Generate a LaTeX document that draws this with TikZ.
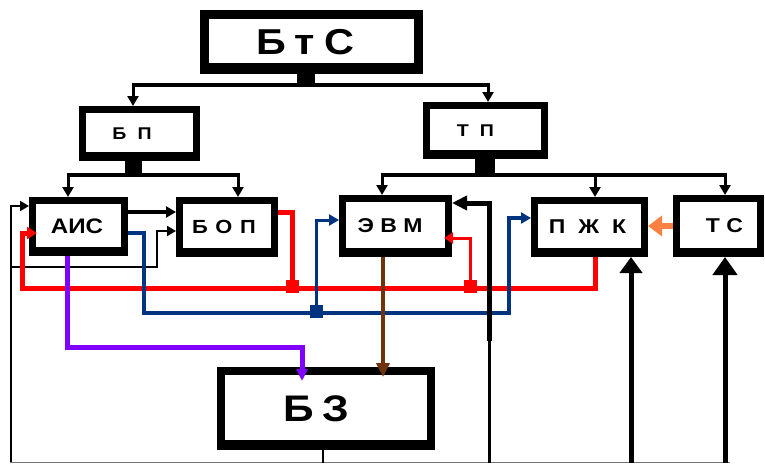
\documentclass[tikz,border=0pt]{standalone}
\usepackage{fontspec}
\setmainfont[FakeStretch=1.15]{Liberation Sans}
\usetikzlibrary{arrows.meta}
\definecolor{navyc}{RGB}{0,51,128}
\definecolor{purp}{RGB}{128,0,255}
\definecolor{brn}{RGB}{112,52,12}
\definecolor{orng}{RGB}{255,128,64}
\newcommand{\gp}[1]{\hspace{#1em}}
\begin{document}
\begin{tikzpicture}[x=1pt,y=-1pt,
  box/.style={draw=black, fill=white, line width=#1, inner sep=0pt, font=\bfseries},
  fs/.style={font=\bfseries\fontsize{#1}{#1}\selectfont},
  bus/.style={line width=4.5pt, black},
  stub/.style={line width=#1, black},
  dnarr/.style={line width=3pt, black, -{Triangle[length=10pt,width=11pt]}},
  thinarr/.style={line width=2pt, black, -{Triangle[length=9pt,width=10pt]}},
  bigup/.style={line width=5pt, black, -{Triangle[length=16pt,width=22pt]}},
  redthick/.style={line width=5pt, red},
  redthin/.style={line width=3pt, red, -{Triangle[length=9pt,width=11pt]}},
  navyl/.style={line width=3.5pt, navyc, -{Triangle[length=10pt,width=11pt]}},
  sq/.style={fill=#1, draw=none, minimum size=13pt, inner sep=0pt},
]
\useasboundingbox (0,0) rectangle (765,463);

% boxes
\node[box=9pt, minimum width=214pt, minimum height=55pt, fs=36] (bts) at (311.5,42) {Б\gp{0.25}т\gp{0.25}С\kern13pt};
\node[box=7pt, minimum width=114pt, minimum height=48pt, fs=17] (bp) at (139.5,133.5) {Б\gp{0.65}П\kern15pt};
\node[box=7pt, minimum width=118pt, minimum height=50pt, fs=17] (tp) at (485.5,130.5) {Т\gp{0.65}П\kern20pt};
\node[box=7pt, minimum width=92pt, minimum height=52pt, fs=21] (ais) at (78.5,226.5) {АИС\kern3pt};
\node[box=7pt, minimum width=95pt, minimum height=53pt, fs=19] (bop) at (227,227) {Б\gp{0.4}О\gp{0.4}П\kern6pt};
\node[box=7pt, minimum width=106pt, minimum height=55pt, fs=20] (evm) at (395.5,226) {Э\gp{0.32}В\gp{0.32}М\kern11pt};
\node[box=7pt, minimum width=110pt, minimum height=53pt, fs=20] (pzk) at (589.5,227) {П\gp{0.65}Ж\gp{0.65}К\kern4pt};
\node[box=7pt, minimum width=84pt, minimum height=55pt, fs=20] (ts) at (718.5,226) {\kern12pt Т\gp{0.32}С};
\node[box=8pt, minimum width=210pt, minimum height=75pt, fs=37] (bz) at (326,408.5) {Б\gp{0.22}З\kern20pt};

% thicker bottom borders
\foreach \n/\w in {bts/9,bp/7,tp/7,ais/7,bop/7,evm/7,pzk/7,ts/7,bz/8}
  \fill ([xshift=\w pt,yshift=\w pt]\n.south west) rectangle ([xshift=-\w pt,yshift=\w pt+2.5pt]\n.south east);

% top distribution
\draw[stub=18pt] ([xshift=-5.5pt]bts.south) -- (306,85);
\draw[bus] (131.5,85) -- (489.5,85);
\draw[dnarr] (133,85) -- (bp.north -| 133,0);
\draw[dnarr] (488,85) -- (tp.north -| 488,0);

% BP distribution
\draw[stub=17pt] (bp.south -| 133.5,0) -- (133.5,175);
\draw[bus] (66.5,175) -- (239.5,175);
\draw[dnarr] (68,175) -- (ais.north -| 68,0);
\draw[dnarr] (238,175) -- (bop.north -| 238,0);

% TP distribution
\draw[stub=20pt] (tp.south -| 485,0) -- (485,175);
\draw[bus] (380.5,175) -- (726.5,175);
\draw[dnarr] (382,175) -- (evm.north -| 382,0);
\draw[dnarr] (595,175) -- (pzk.north -| 595,0);
\draw[dnarr] (725,175) -- (ts.north -| 725,0);

% AIS -> BOP
\draw[line width=4pt, -{Triangle[length=10pt,width=11pt]}] (ais.east |- 0,212) -- (bop.west |- 0,212);

% left inputs
\coordinate (lb) at (11,463);
\draw[thinarr] (lb) -- (11,206) -- (ais.west |- 0,206);
\draw[thinarr] (11,267) -- (157,267) -- (157,231) -- (bop.west |- 0,231);

% bottom line
\draw[line width=1pt, black!55] (10,462.5) -- (730,462.5);

% red lines
\draw[redthick] (bop.east |- 0,212) -- (292,212) -- (292,288);
\draw[redthick, -{Triangle[length=10pt,width=12pt]}, shorten >=-8pt] (pzk.south -| 595,0) -- (595,288) -- (22,288) -- (22,233) -- (ais.west |- 0,233);
\node[sq=red] (r1) at (292,286) {};
\node[sq=red] (r2) at (470,286) {};
\draw[redthin, shorten >=-8pt] (r2.center) -- (470,238) -- (evm.east |- 0,238);

% navy lines
\draw[navyl] (ais.east |- 0,233) -- (144,233) -- (144,313) -- (509,313) -- (509,218) -- (pzk.west |- 0,218);
\node[sq=navyc] (n1) at (316,311) {};
\draw[navyl, line width=3pt] (n1.center) -- (316,220) -- (evm.west |- 0,220);

% purple and brown to BZ
\draw[line width=5pt, purp, -{Triangle[length=12pt,width=11pt]}, shorten >=-14pt] (ais.south -| 67,0) -- (67,347) -- (302,347) -- (bz.north -| 302,0);
\draw[line width=4pt, brn, -{Triangle[length=14pt,width=13pt]}, shorten >=-10pt] (evm.south -| 383,0) -- (bz.north -| 383,0);

% BZ bottom output
\draw[line width=2.5pt] (bz.south -| 323,0) -- (323,463);

% black input to EVM
\draw[line width=3pt] (489,463) -- (489,340);
\draw[line width=5pt, -{Triangle[length=15pt,width=14pt]}] (489,341) -- (489,203) -- (evm.east |- 0,203);

% up arrows
\draw[bigup] (631,463) -- (pzk.south -| 631,0);
\draw[bigup, -{Triangle[length=18pt,width=24pt]}] (725,463) -- (ts.south -| 725,0);

% orange
\draw[line width=5.5pt, orng, -{Triangle[length=14pt,width=20pt]}] (ts.west) -- (pzk.east |- ts.west);
\end{tikzpicture}
\end{document}
